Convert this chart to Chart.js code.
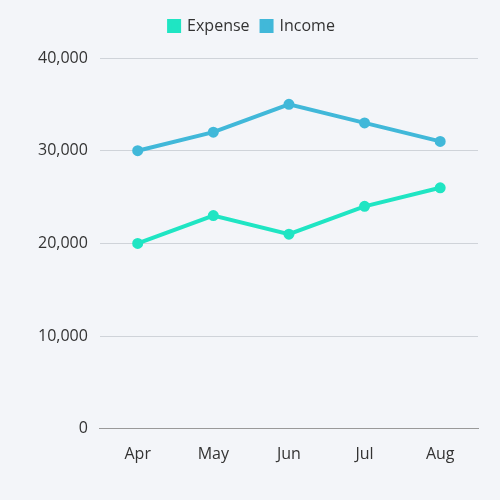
<!DOCTYPE html>
<html>
<head>
<script src="https://cdn.jsdelivr.net/npm/chart.js@4"></script>
<style>
  body { margin: 0; background: #f3f5f9; }
  #wrap { width: 500px; height: 500px; }
</style>
</head>
<body>
<div id="wrap"><canvas id="grafico"></canvas></div>
<script>
const meses = ["Apr", "May", "Jun", "Jul", "Aug"];
const expense = [20000, 23000, 21000, 24000, 26000];
const income = [30000, 32000, 35000, 33000, 31000];

Chart.defaults.font.family = "'Open Sans', Inter, sans-serif";
Chart.defaults.color = "#333";

// espacio extra debajo de la leyenda
const margenLeyenda = {
  id: "margenLeyenda",
  beforeInit(chart) {
    const fitOrig = chart.legend.fit;
    chart.legend.fit = function () {
      fitOrig.bind(chart.legend)();
      this.height += 14;
    };
  }
};

new Chart(document.getElementById("grafico"), {
  type: "line",
  data: {
    labels: meses,
    datasets: [
      { label: "Expense", data: expense, borderColor: "#1fe5c3", backgroundColor: "#1fe5c3", borderWidth: 4, pointRadius: 3.5 },
      { label: "Income", data: income, borderColor: "#41b8d9", backgroundColor: "#41b8d9", borderWidth: 4, pointRadius: 3.5 }
    ]
  },
  options: {
    responsive: true,
    maintainAspectRatio: false,
    animation: false,
    layout: { padding: { left: 26, right: 22, top: 6, bottom: 28 } },
    plugins: {
      legend: {
        labels: { boxWidth: 10, boxHeight: 10, font: { size: 16 }, padding: 12 }
      }
    },
    scales: {
      x: {
        grid: { display: false },
        border: { color: "#999" },
        offset: true,
        ticks: { font: { size: 16 }, padding: 8 }
      },
      y: {
        min: 0, max: 40000,
        ticks: { stepSize: 10000, font: { size: 16 }, padding: 12 },
        grid: { color: "#cfd3d9", drawTicks: false },
        border: { display: false }
      }
    }
  },
  plugins: [margenLeyenda]
});
</script>
</body>
</html>
